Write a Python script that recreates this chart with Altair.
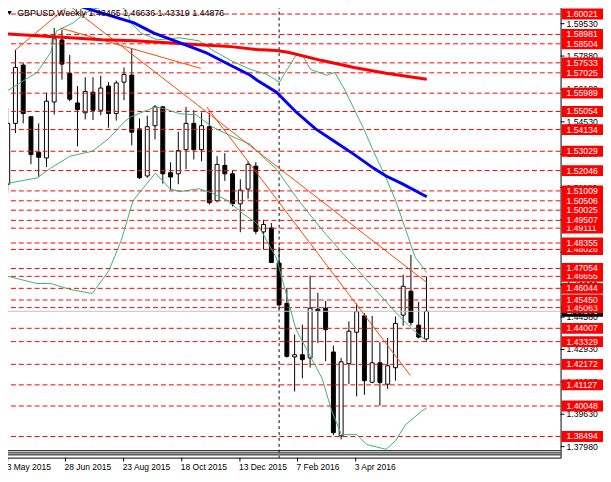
import altair as alt
import pandas as pd

W, H = 566.5, 458
X_DOM = [-0.15, 70.66]
Y_DOM = [1.37418, 1.60445]
FONT = "Liberation Sans"

# ---- weekly candles (bar index 0 = 3 May 2015) ----
opens = [1.5135, 1.5445, 1.5742, 1.5479, 1.5298, 1.5269, 1.5554, 1.5870, 1.5700, 1.5549,
         1.5499, 1.5604, 1.5512, 1.5635, 1.5495, 1.5655, 1.5691, 1.5417, 1.5177, 1.5433,
         1.5529, 1.5194, 1.5188, 1.5311, 1.5445, 1.5311, 1.5428, 1.5051, 1.5231, 1.5188,
         1.5035, 1.5110, 1.5227, 1.4892, 1.4912, 1.4733, 1.4528, 1.4255, 1.4266, 1.4250,
         1.4498, 1.4503, 1.4280, 1.3853, 1.4221, 1.4381, 1.4464, 1.4126, 1.4225, 1.4116,
         1.4200, 1.4468, 1.4590, 1.4417, 1.43465]
highs = [1.5524, 1.5819, 1.5752, 1.5479, 1.5445, 1.5601, 1.5931, 1.5923, 1.5794, 1.5635,
         1.5680, 1.5680, 1.5688, 1.5655, 1.5663, 1.5730, 1.5826, 1.5470, 1.5484, 1.5539,
         1.5534, 1.5247, 1.5403, 1.5529, 1.5512, 1.5500, 1.5500, 1.5278, 1.5293, 1.5202,
         1.5160, 1.5252, 1.5247, 1.4954, 1.4937, 1.4816, 1.4607, 1.4369, 1.4419, 1.4670,
         1.4582, 1.4540, 1.4313, 1.4250, 1.4436, 1.4527, 1.4478, 1.4464, 1.4330, 1.4352,
         1.4461, 1.4674, 1.4775, 1.4535, 1.46636]
lows = [1.5091, 1.5395, 1.5445, 1.5237, 1.5172, 1.5222, 1.5490, 1.5668, 1.5558, 1.5328,
        1.5465, 1.5462, 1.5487, 1.5423, 1.5459, 1.5563, 1.5333, 1.5162, 1.5168, 1.5363,
        1.5138, 1.5105, 1.5135, 1.5212, 1.5261, 1.5252, 1.5031, 1.5043, 1.5152, 1.5021,
        1.4890, 1.5061, 1.4880, 1.4803, 1.4736, 1.4498, 1.4251, 1.4079, 1.4146, 1.4201,
        1.4325, 1.4233, 1.3856, 1.3835, 1.4117, 1.4054, 1.4062, 1.4121, 1.4006, 1.4092,
        1.4134, 1.4414, 1.4414, 1.4350, 1.43319]
closes = [1.5445, 1.5730, 1.5495, 1.5286, 1.5272, 1.5558, 1.5876, 1.5747, 1.5568, 1.5515,
          1.5608, 1.5512, 1.5625, 1.5495, 1.5651, 1.5694, 1.5400, 1.5168, 1.5428, 1.5529,
          1.5188, 1.5172, 1.5306, 1.5445, 1.5311, 1.5433, 1.5041, 1.5236, 1.5188, 1.5035,
          1.5105, 1.5236, 1.4895, 1.4930, 1.4736, 1.4520, 1.4258, 1.4266, 1.4241, 1.4503,
          1.4489, 1.4394, 1.3869, 1.4230, 1.4386, 1.4486, 1.4134, 1.4225, 1.4124, 1.4210,
          1.4426, 1.4615, 1.4431, 1.4356, 1.44876]

# ---- horizontal levels ----
levels = [1.60021, 1.58981, 1.58504, 1.57533, 1.57025, 1.55989, 1.55054, 1.54134, 1.53029,
          1.52046, 1.51009, 1.50506, 1.50025, 1.49507, 1.49111, 1.48355, 1.48026, 1.47054,
          1.46655, 1.46044, 1.45450, 1.45063, 1.44007, 1.43329, 1.42172, 1.41127, 1.40048,
          1.38494]
bid = 1.44876
bottom_lines = [1.37770, 1.37660, 1.37560]
axis_vals = [1.59530, 1.57880, 1.56180, 1.54530, 1.52880, 1.51180, 1.49530, 1.47880,
             1.46230, 1.44580, 1.42930, 1.41280, 1.39630, 1.37980]
separator_idx = [35]

# ---- time axis ----
date_pos = [0, 7.45, 14.95, 22.45, 29.95, 37.375, 44.875]
date_labels = ["3 May 2015", "28 Jun 2015", "23 Aug 2015", "18 Oct 2015",
               "13 Dec 2015", "7 Feb 2016", "3 Apr 2016"]

# ---- indicator curves (bar index, price) ----
bb_up_i = [-0.34, 3.79, 5.54, 6.29, 8.41, 9.66, 10.91, 12.16, 13.41, 14.66, 15.29, 15.91,
           17.16, 19.29, 22.16, 24.66, 26.29, 28.79, 31.29, 33.41, 35.04, 37.16, 38.04,
           39.04, 41.16, 42.16, 43.41, 44.66, 45.91, 47.16, 48.79, 50.04, 51.79, 52.54, 54.04]
bb_up_p = [1.5604, 1.5705, 1.5806, 1.5916, 1.5956, 1.5997, 1.6027, 1.6037, 1.6042, 1.6037,
           1.6022, 1.5956, 1.5906, 1.5871, 1.5881, 1.5866, 1.5821, 1.5765, 1.5720, 1.5695,
           1.5655, 1.5791, 1.5791, 1.5720, 1.5690, 1.5705, 1.5620, 1.5519, 1.5418, 1.5303,
           1.5167, 1.5051, 1.4850, 1.4764, 1.4684]
bb_mid_i = [-0.34, 3.79, 5.54, 8.04, 10.91, 13.04, 15.04, 15.91, 19.04, 20.29, 22.16, 24.29,
            26.29, 28.41, 31.29, 32.79, 34.66, 35.91, 37.54, 40.91, 45.91, 50.04, 52.16, 54.04]
bb_mid_p = [1.5137, 1.5167, 1.5217, 1.5278, 1.5303, 1.5368, 1.5453, 1.5479, 1.5529, 1.5519,
            1.5494, 1.5489, 1.5429, 1.5388, 1.5338, 1.5278, 1.5212, 1.5142, 1.5051, 1.4885,
            1.4664, 1.4482, 1.4397, 1.4337]
bb_lo_i = [-0.34, 3.79, 5.54, 8.04, 10.91, 13.04, 14.66, 16.16, 19.04, 20.91, 22.16, 24.66,
           26.29, 28.41, 30.29, 32.16, 34.66, 37.16, 40.54, 41.79, 43.04, 45.04, 46.29,
           48.79, 50.04, 51.29, 53.41, 54.04]
bb_lo_p = [1.4669, 1.4629, 1.4629, 1.4599, 1.4578, 1.4694, 1.4850, 1.5051, 1.5192, 1.5112,
           1.5097, 1.5112, 1.5091, 1.5051, 1.4986, 1.4935, 1.4759, 1.4397, 1.4146, 1.3980,
           1.3859, 1.3859, 1.3809, 1.3784, 1.3829, 1.3909, 1.3980, 1.3995]
ma_red_i = [-0.34, 3.79, 8.04, 12.16, 16.29, 20.54, 24.66, 28.79, 32.16, 34.66, 36.29,
            40.54, 44.66, 48.79, 54.04]
ma_red_p = [1.5901, 1.5891, 1.5881, 1.5871, 1.5866, 1.5856, 1.5846, 1.5836, 1.5821, 1.5816,
            1.5806, 1.5765, 1.5730, 1.5700, 1.5670]
ma_blue_i = [8.66, 9.29, 12.16, 16.29, 18.79, 22.16, 25.54, 28.79, 31.29, 32.16, 34.66,
             37.16, 39.66, 42.16, 44.66, 47.16, 48.79, 50.91, 54.04]
ma_blue_p = [1.6057, 1.6042, 1.6007, 1.5957, 1.5906, 1.5856, 1.5806, 1.5740, 1.5690, 1.5665,
             1.5604, 1.5504, 1.5418, 1.5353, 1.5287, 1.5217, 1.5177, 1.5137, 1.5071]

# trend lines: (start index, start price, end index, end price)
tl_names = ["A", "B", "C1", "C2"]
tl_i1 = [0.91, 6.79, 8.04, 25.66]
tl_p1 = [1.5816, 1.5931, 1.6042, 1.5529]
tl_i2 = [7.91, 24.91, 54.04, 51.91]
tl_p2 = [1.6047, 1.5725, 1.4634, 1.4161]

title_text = "GBPUSD,Weekly  1.43465 1.46636 1.43319 1.44876"

# ---------------- build ----------------
xs = alt.Scale(domain=X_DOM, nice=False, zero=False)
ys = alt.Scale(domain=Y_DOM, nice=False, zero=False)


def X(f):
    return alt.X(f, type="quantitative", scale=xs, axis=None)


def Y(f):
    return alt.Y(f, type="quantitative", scale=ys, axis=None)


cd = pd.DataFrame({"i": list(range(len(opens))), "o": opens, "h": highs, "l": lows, "c": closes})
cd["blo"] = cd[["o", "c"]].min(axis=1)
cd["bhi"] = cd[["o", "c"]].max(axis=1)
cd["bull"] = (cd["c"] >= cd["o"]).astype(int)

layers = []

layers.append(alt.Chart(cd).mark_rule(color="black", strokeWidth=1).encode(
    x=X("i"), y=Y("l"), y2="h"))
layers.append(alt.Chart(cd).mark_bar(size=4, stroke="black", strokeWidth=1).encode(
    x=X("i"), y=Y("blo"), y2="bhi",
    fill=alt.condition("datum.bull == 1", alt.value("white"), alt.value("black"))))

lv = pd.DataFrame({"v": levels})
layers.append(alt.Chart(lv).mark_rule(color="#FF0000", strokeWidth=1, strokeDash=[5, 3]).encode(
    y=Y("v")))

layers.append(alt.Chart(pd.DataFrame({"v": [bid]})).mark_rule(color="#C0C0C0", strokeWidth=1).encode(
    y=Y("v")))
layers.append(alt.Chart(pd.DataFrame({"v": bottom_lines})).mark_rule(color="black", strokeWidth=1).encode(
    y=Y("v")))
layers.append(alt.Chart(pd.DataFrame({"i": separator_idx})).mark_rule(
    color="black", strokeWidth=1, strokeDash=[3, 3]).encode(x=X("i")))


def curve_df(name, ii, pp):
    return pd.DataFrame({"s": name, "i": ii, "p": pp})


bb = pd.concat([curve_df("U", bb_up_i, bb_up_p), curve_df("M", bb_mid_i, bb_mid_p),
                curve_df("L", bb_lo_i, bb_lo_p)])
layers.append(alt.Chart(bb).mark_line(color="#3CB371", strokeWidth=1, clip=True).encode(
    x=X("i"), y=Y("p"), detail="s:N"))

tl = pd.concat([pd.DataFrame({"s": [n, n], "i": [a, b], "p": [c, d]})
                for n, a, c, b, d in zip(tl_names, tl_i1, tl_p1, tl_i2, tl_p2)])
layers.append(alt.Chart(tl).mark_line(color="#FF4500", strokeWidth=1, clip=True).encode(
    x=X("i"), y=Y("p"), detail="s:N"))

layers.append(alt.Chart(curve_df("red", ma_red_i, ma_red_p)).mark_line(
    color="#FF0000", strokeWidth=3, clip=True).encode(x=X("i"), y=Y("p")))
layers.append(alt.Chart(curve_df("blue", ma_blue_i, ma_blue_p)).mark_line(
    color="#0000FF", strokeWidth=3, clip=True).encode(x=X("i"), y=Y("p")))

# right price axis: ticks + labels
ax = pd.DataFrame({"v": axis_vals, "t": [f"{v:.5f}" for v in axis_vals]})
layers.append(alt.Chart(ax).mark_rule(color="black", strokeWidth=1).encode(
    y=Y("v"), x=alt.value(W), x2=alt.value(W + 4)))
layers.append(alt.Chart(ax).mark_text(align="left", baseline="middle", font=FONT,
                                      fontSize=8.8, color="black").encode(
    y=Y("v"), x=alt.value(W + 6), text="t:N"))

# bid label (black)
bd = pd.DataFrame({"v": [bid], "t": [f"{bid:.5f}"]})
layers.append(alt.Chart(bd).mark_rect(color="black", yOffset=-5.5, y2Offset=5.5).encode(
    y=Y("v"), y2="v", x=alt.value(W + 1), x2=alt.value(W + 43)))
layers.append(alt.Chart(bd).mark_text(align="left", baseline="middle", font=FONT,
                                      fontSize=8.8, color="white").encode(
    y=Y("v"), x=alt.value(W + 6), text="t:N"))

# red level labels, lowest first so higher ones overlap them
lvs = sorted(levels)
lvd = pd.DataFrame({"k": list(range(len(lvs))), "v": lvs, "t": [f"{v:.5f}" for v in lvs]})
for k in range(len(lvs)):
    base = alt.Chart(lvd).transform_filter(alt.datum.k == k)
    layers.append(base.mark_rect(color="#FF0000", yOffset=-5.5, y2Offset=5.5).encode(
        y=Y("v"), y2="v", x=alt.value(W + 1), x2=alt.value(W + 43)))
    layers.append(base.mark_text(align="left", baseline="middle", font=FONT,
                                 fontSize=8.8, color="white").encode(
        y=Y("v"), x=alt.value(W + 6), text="t:N"))

# time axis
dd = pd.DataFrame({"i": date_pos, "t": date_labels})
layers.append(alt.Chart(dd).mark_rule(color="black", strokeWidth=1).encode(
    x=X("i"), y=alt.value(H), y2=alt.value(H + 4)))
layers.append(alt.Chart(dd).mark_text(align="left", baseline="alphabetic", font=FONT,
                                      fontSize=8.6, color="black", dx=-1).encode(
    x=X("i"), y=alt.value(H + 13), text="t:N"))

# title
layers.append(alt.Chart(pd.DataFrame({"t": [title_text]})).mark_text(
    align="left", baseline="middle", font=FONT, fontSize=9, color="black").encode(
    x=alt.value(15.8), y=alt.value(7.5), text="t:N"))
layers.append(alt.Chart(pd.DataFrame({"t": [title_text]})).mark_point(
    shape="triangle-down", filled=True, size=22, color="black", opacity=1).encode(
    x=alt.value(8), y=alt.value(7.5)))

chart = alt.layer(*layers).properties(
    width=W, height=H,
    autosize=alt.AutoSizeParams(type="none"),
    padding={"left": -6.5, "top": -5.5, "right": 43, "bottom": 21.5},
    background="white",
).configure_view(stroke="black", strokeWidth=1)

chart.save("out.html", embed_options={"renderer": "svg", "actions": False})
